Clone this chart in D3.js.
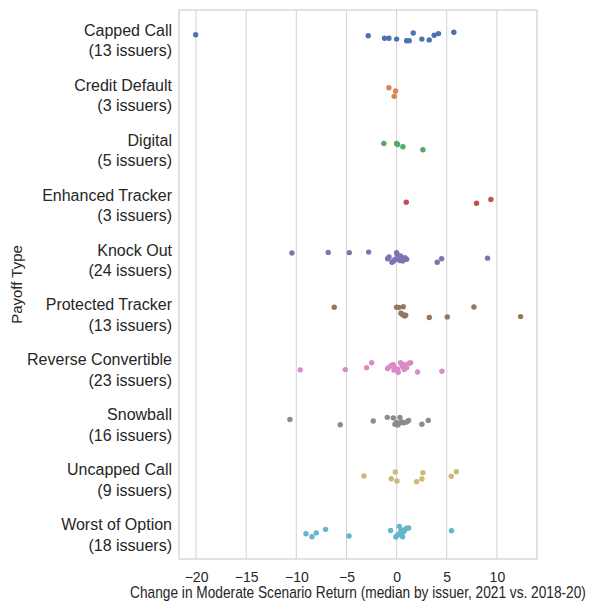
<!DOCTYPE html>
<html><head><meta charset="utf-8">
<script src="https://cdn.jsdelivr.net/npm/d3@7/dist/d3.min.js"></script>
<style>body{margin:0;background:#fff}svg{display:block}</style>
</head><body><svg id="c" width="589" height="606"></svg>
<script>
const categories = ["Capped Call","Credit Default","Digital","Enhanced Tracker","Knock Out","Protected Tracker","Reverse Convertible","Snowball","Uncapped Call","Worst of Option"];
const issuerCounts = [13,3,5,3,24,13,23,16,9,18];
const colors = ["#4C72B0","#DD8452","#55A868","#C44E52","#8172B3","#937860","#DA8BC3","#8C8C8C","#CCB974","#64B5CD"];
const xTicks = [-20,-15,-10,-5,0,5,10];

// values (change in moderate scenario return) and jitter (in category units) per payoff type
const cappedCall = [-20.04,-2.83,-1.20,-0.77,0.0,1.0,1.26,1.66,2.52,3.25,3.75,4.18,5.71];
const cappedCallJit = [-0.05,-0.03,0.015,0.015,0.03,0.06,0.06,-0.08,0.03,0.045,-0.04,-0.07,-0.095];
const creditDefault = [-0.77,-0.10,-0.24];
const creditDefaultJit = [-0.085,-0.025,0.07];
const digital = [-1.27,0.0,0.1,0.63,2.62];
const digitalJit = [-0.07,-0.07,-0.05,-0.01,0.045];
const enhancedTracker = [0.96,7.97,9.40];
const enhancedTrackerJit = [0.0,0.02,-0.05];
const knockOut = [-10.44,-6.82,-4.72,-2.79,-0.9,-0.75,-0.46,-0.35,-0.2,0.0,0.07,0.1,0.17,0.25,0.33,0.4,0.5,0.6,0.66,0.83,1.0,4.05,4.49,9.07];
const knockOutJit = [-0.075,-0.085,-0.08,-0.09,0.03,0.0,0.095,0.08,0.05,-0.08,-0.025,-0.04,0.04,0.0,0.065,-0.02,0.025,0.07,0.05,0.01,0.04,0.095,0.03,0.02];
const protectedTracker = [-6.22,0.0,0.2,0.43,0.55,0.66,0.66,0.8,0.9,3.26,5.05,7.71,12.36];
const protectedTrackerJit = [-0.085,-0.085,-0.08,0.025,0.04,-0.095,0.055,0.075,0.06,0.1,0.09,-0.09,0.085];
const reverseConvertible = [-9.61,-5.12,-2.99,-2.49,-0.9,-0.7,-0.5,-0.33,-0.25,-0.17,0.0,0.1,0.17,0.4,0.5,0.6,0.75,0.83,1.0,1.26,1.4,2.09,4.52];
const reverseConvertibleJit = [0.055,0.05,0.015,-0.075,0.03,0.0,-0.03,-0.04,0.06,0.03,0.055,0.04,0.1,-0.075,-0.05,0.0,0.05,-0.04,0.015,-0.065,-0.075,0.095,0.08];
const snowball = [-10.64,-5.62,-2.33,-0.93,-0.33,-0.17,0.0,0.1,0.25,0.33,0.5,0.7,1.0,1.2,2.52,3.16];
const snowballJit = [-0.04,0.055,-0.015,-0.08,-0.07,0.045,0.015,0.06,0.03,-0.08,0.0,0.02,0.005,-0.025,0.045,-0.025];
const uncappedCall = [-3.26,-0.53,-0.13,0.03,1.99,2.52,2.62,5.45,5.95];
const uncappedCallJit = [-0.012,0.037,-0.085,0.08,0.092,0.043,-0.072,-0.006,-0.09];
const worstOfOption = [-9.04,-8.44,-8.01,-7.08,-4.75,-0.6,-0.07,0.1,0.27,0.35,0.45,0.5,0.6,0.73,0.85,1.0,1.2,5.48];
const worstOfOptionJit = [0.04,0.095,0.025,-0.04,0.08,-0.02,0.1,0.06,-0.095,0.03,-0.03,0.07,0.095,0.0,-0.04,-0.06,-0.065,-0.015];

const seriesValues = [cappedCall,creditDefault,digital,enhancedTracker,knockOut,protectedTracker,reverseConvertible,snowball,uncappedCall,worstOfOption];
const seriesJitter = [cappedCallJit,creditDefaultJit,digitalJit,enhancedTrackerJit,knockOutJit,protectedTrackerJit,reverseConvertibleJit,snowballJit,uncappedCallJit,worstOfOptionJit];

const W = 589, H = 606;
const margin = {top:10, right:52, bottom:47, left:179};
const svg = d3.select("#c");
const font = "'Liberation Sans', Arial, sans-serif";
const textColor = "#262626";
const gridColor = "#d6d6d6";

const x = d3.scaleLinear().domain([-21.7, 14.0]).range([margin.left, W - margin.right]);
const y = d3.scaleBand().domain(categories).range([margin.top, H - margin.bottom]).padding(0);
const bw = y.bandwidth();

// grid
svg.append("g").selectAll("line").data(xTicks).join("line")
  .attr("x1", d => x(d)).attr("x2", d => x(d))
  .attr("y1", margin.top).attr("y2", H - margin.bottom)
  .attr("stroke", gridColor).attr("stroke-width", 1.1);

// frame
svg.append("rect")
  .attr("x", margin.left).attr("y", margin.top)
  .attr("width", W - margin.left - margin.right).attr("height", H - margin.top - margin.bottom)
  .attr("fill", "none").attr("stroke", "#cfcfcf").attr("stroke-width", 1.2);

// x axis
const xAxis = d3.axisBottom(x).tickValues(xTicks).tickSize(0).tickPadding(13);
const gx = svg.append("g").attr("transform", `translate(0,${H - margin.bottom})`).call(xAxis);
gx.select(".domain").remove();
gx.selectAll("text").attr("font-family", font).attr("font-size", 14).attr("fill", textColor);

// y labels (two lines)
const gy = svg.append("g");
categories.forEach((c, i) => {
  const cy = y(c) + bw / 2;
  const t = gy.append("text").attr("text-anchor", "end")
    .attr("font-family", font).attr("font-size", 16).attr("fill", textColor);
  t.append("tspan").attr("x", margin.left - 7).attr("y", cy - 1.5).text(c);
  t.append("tspan").attr("x", margin.left - 7).attr("y", cy + 19).text(`(${issuerCounts[i]} issuers)`);
});

// axis titles
svg.append("text").attr("transform", "translate(358,598) scale(1,1.15)")
  .attr("text-anchor", "middle").attr("font-family", font).attr("font-size", 13.7).attr("fill", textColor)
  .text("Change in Moderate Scenario Return (median by issuer, 2021 vs. 2018-20)");
svg.append("text").attr("transform", `translate(22,${(margin.top + H - margin.bottom) / 2}) rotate(-90)`)
  .attr("text-anchor", "middle").attr("font-family", font).attr("font-size", 15).attr("fill", textColor)
  .text("Payoff Type");

// points
const pts = [];
categories.forEach((c, i) => {
  seriesValues[i].forEach((v, j) => pts.push({cat: c, i, v, jit: seriesJitter[i][j]}));
});
svg.append("g").selectAll("circle").data(pts).join("circle")
  .attr("cx", d => x(d.v))
  .attr("cy", d => y(d.cat) + bw / 2 + d.jit * bw)
  .attr("r", 2.7)
  .attr("fill", d => colors[d.i]);
</script></body></html>
